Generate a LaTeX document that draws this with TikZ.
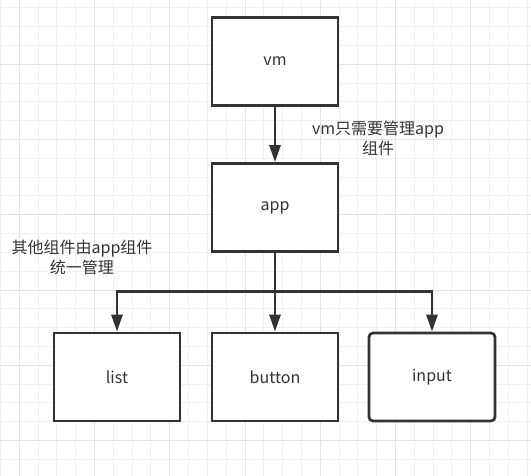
\documentclass[tikz,border=0pt]{standalone}
\usepackage{fontspec}
\setmainfont{Noto Sans CJK SC}
\usetikzlibrary{arrows.meta}
\definecolor{linegray}{HTML}{333333}
\definecolor{gridminor}{HTML}{F0F0F0}
\definecolor{gridmajor}{HTML}{E3E3E3}
\begin{document}
\begin{tikzpicture}[x=1pt,y=-1pt,
    comp/.style={draw=linegray,line width=2.7pt,fill=white,minimum width=126pt,
      minimum height=88pt,inner sep=0pt,text=linegray,font=\fontsize{16}{19.5}\selectfont},
    note/.style={align=center,text=linegray,font=\fontsize{16}{19.5}\selectfont},
    link/.style={draw=linegray,line width=2.7pt,-{Triangle[length=17pt,width=11pt]}}]
  \useasboundingbox (0,0) rectangle (531,476);
  \fill[white] (0,0) rectangle (531,476);
  % grid
  \foreach \i in {0,...,28}
    \draw[gridminor,line width=1pt] ({0.5+18.81*\i},0) -- ({0.5+18.81*\i},476);
  \foreach \i in {0,...,25}
    \draw[gridminor,line width=1pt] (0,{7.9+18.81*\i}) -- (531,{7.9+18.81*\i});
  \foreach \i in {0,...,6}
    \draw[gridmajor,line width=1pt] ({19.3+75.24*\i},0) -- ({19.3+75.24*\i},476);
  \foreach \i in {0,...,5}
    \draw[gridmajor,line width=1pt] (0,{64.3+75.24*\i}) -- (531,{64.3+75.24*\i});
  % components
  \node[comp] (vm) at (275,61.5) {vm};
  \node[comp] (app) at (275,207.5) {app};
  \node[comp] (list) at (117,377) {list};
  \node[comp] (button) at (275,377) {button};
  \node[comp,rounded corners=4pt] (input) at (432,377) {input};
  \coordinate (split) at (275,291.7);
  % notes
  \node[note] (vmnote) at (378,138.5) {vm只需要管理app\\组件};
  \node[note] (appnote) at (82,257.5) {其他组件由app组件\\统一管理};
  % links
  \begin{scope}[link]
    \draw (vm) -- (app);
    \draw (app) -- (split) -| (list);
    \draw (app) -- (button);
    \draw (split) -| (input);
  \end{scope}
\end{tikzpicture}
\end{document}
